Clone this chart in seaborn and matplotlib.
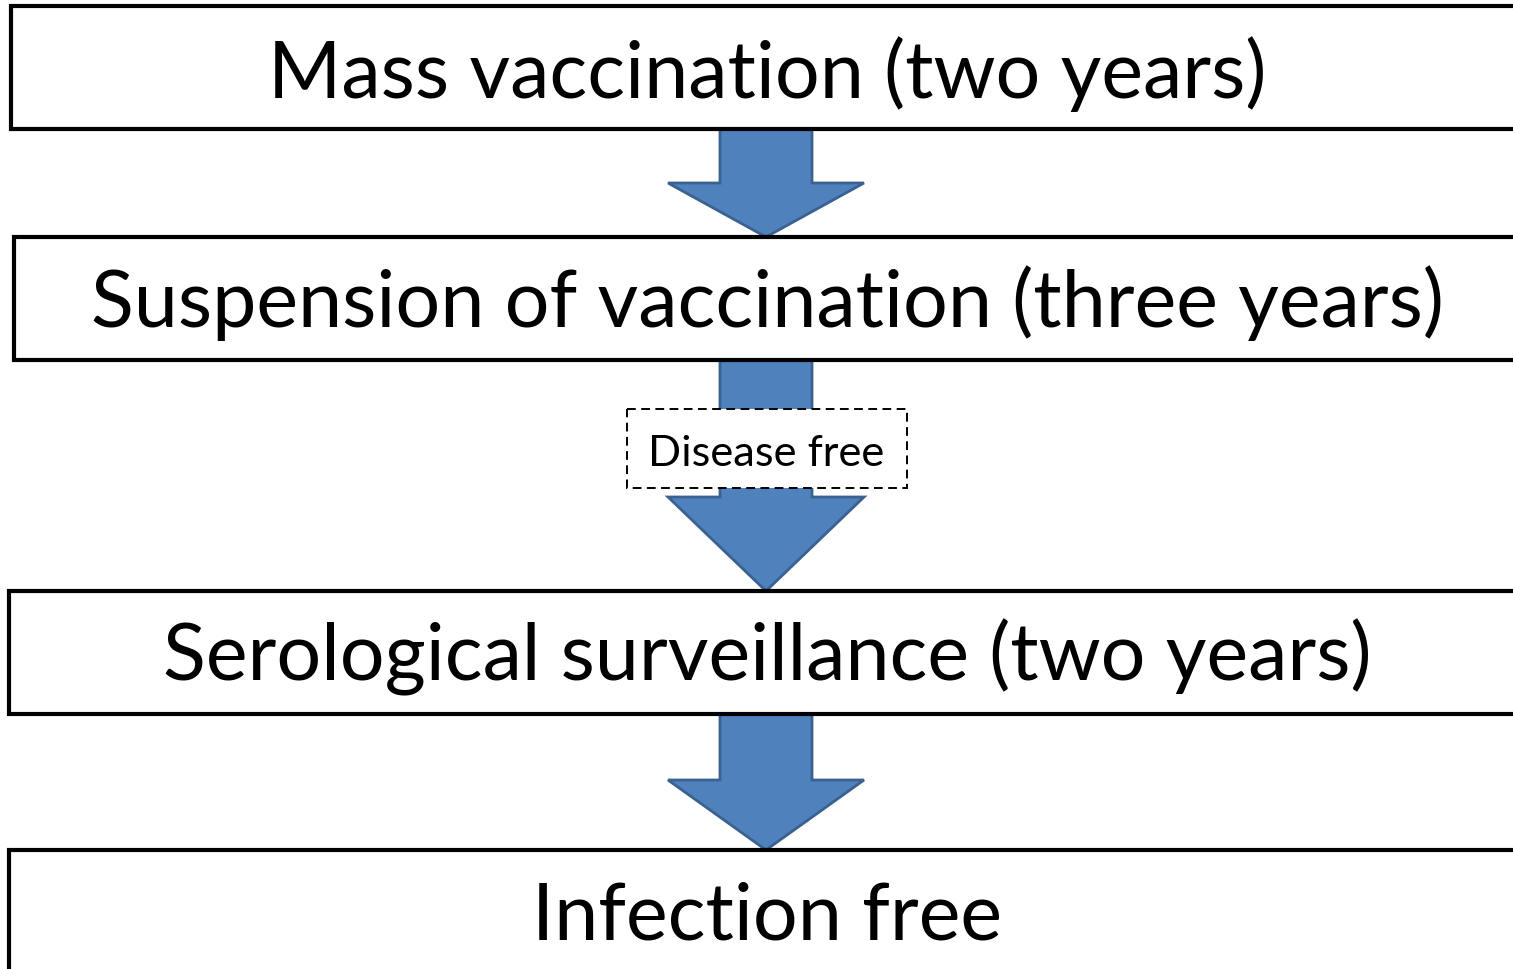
import matplotlib
matplotlib.use('Agg')

import matplotlib.pyplot as plt
from matplotlib.patches import Rectangle, Polygon
import seaborn as sns

sns.set_theme(style='white')
plt.rcParams['font.family'] = ['Lato', 'DejaVu Sans']

# Flow chart content
stages = [
    "Mass vaccination (two years)",
    "Suspension of vaccination (three years)",
    "Serological surveillance (two years)",
    "Infection free",
]
note = "Disease free"

# Layout (pixel units, y pointing down)
W, H = 1513, 969
box_left = [11, 14, 9, 9]
box_top = [6, 237, 591, 850]
box_h = 123
box_right = 1525
baselines = [98, 327, 680, 940]
cx = 766
head_y = [183, 497, 780]
shaft_hw, head_hw = 46, 98

fill_blue = '#4F81BD'
edge_blue = '#3A6190'

fig = plt.figure(figsize=(W / 100, H / 100), dpi=100)
ax = fig.add_axes([0, 0, 1, 1])
ax.set_xlim(0, W)
ax.set_ylim(H, 0)
ax.axis('off')

# --------------------------------------------
# Arrows between stages
for i in range(len(stages) - 1):
    y0 = box_top[i] + box_h
    y1 = box_top[i + 1]
    hy = head_y[i]
    pts = [(cx - shaft_hw, y0), (cx + shaft_hw, y0), (cx + shaft_hw, hy),
           (cx + head_hw, hy), (cx, y1), (cx - head_hw, hy), (cx - shaft_hw, hy)]
    ax.add_patch(Polygon(pts, closed=True, facecolor=fill_blue,
                         edgecolor=edge_blue, lw=2.0, joinstyle='miter', zorder=1))

# Stage boxes
texts = []
for i, label in enumerate(stages):
    ax.add_patch(Rectangle((box_left[i], box_top[i]), box_right - box_left[i], box_h,
                           facecolor='white', edgecolor='black', lw=3.0, zorder=2))
    t = ax.text(767, baselines[i], label, ha='center', va='baseline',
                fontsize=60, color='black', zorder=3)
    texts.append(t)

# Dashed note box
ax.add_patch(Rectangle((627, 409), 280, 79, facecolor='white', edgecolor='black',
                       lw=1.4, linestyle=(0, (4.5, 2.8)), zorder=4))
nt = ax.text(766, 466, note, ha='center', va='baseline', fontsize=28,
             color='black', zorder=5)

# Fit font sizes so the text widths match the reference
renderer = fig.canvas.get_renderer()
w = texts[1].get_window_extent(renderer).width
size = 60 * 1354 / w
for t in texts:
    t.set_fontsize(size)
w = nt.get_window_extent(renderer).width
nt.set_fontsize(28 * 236 / w)

fig.savefig('out.png', dpi=100)
